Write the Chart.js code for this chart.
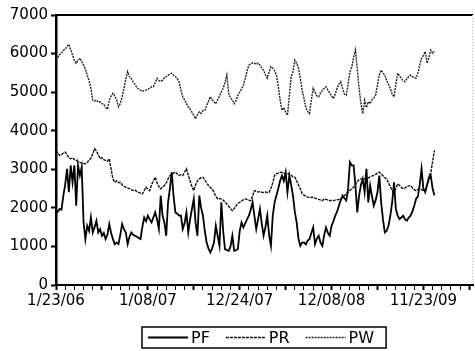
<!DOCTYPE html>
<html>
<head>
<meta charset="utf-8">
<script src="https://cdn.jsdelivr.net/npm/chart.js@4.4.1/dist/chart.umd.min.js"></script>
<style>
  html, body { margin: 0; padding: 0; background: #fff; }
  canvas { display: block; }
</style>
</head>
<body>
<canvas id="prixChart" width="475" height="351"></canvas>
<script>
// semaines depuis le 23/01/2006 (l'axe va un peu plus loin que les donnees)
const nbWeeks = 228;
const startDate = Date.UTC(2006, 0, 23);
const dates = [];
for (let i = 0; i < nbWeeks; i++) {
  const d = new Date(startDate + i * 7 * 86400000);
  const dd = String(d.getUTCDate()).padStart(2, '0');
  const yy = String(d.getUTCFullYear() % 100).padStart(2, '0');
  dates.push((d.getUTCMonth() + 1) + '/' + dd + '/' + yy);
}

const yTicks = [0, 1000, 2000, 3000, 4000, 5000, 6000, 7000];

const PF = [
  1883, 1900, 1971, 1950, 2318, 2600, 3013, 2404, 3099, 2664,
  3099, 2057, 3099, 2839, 3055, 1622, 1190, 1536, 1400, 1753,
  1362, 1500, 1667, 1362, 1450, 1276, 1350, 1190, 1300, 1581,
  1350, 1190, 1060, 1100, 1060, 1300, 1581, 1450, 1362, 1060,
  1250, 1362, 1300, 1276, 1250, 1220, 1190, 1500, 1753, 1650,
  1797, 1700, 1622, 1750, 1883, 1700, 1450, 2318, 1800, 1622,
  1276, 2143, 2500, 2924, 2300, 1883, 1850, 1797, 1800, 1450,
  1600, 1883, 1362, 1700, 1971, 2232, 1600, 1276, 2318, 2000,
  1797, 1400, 1102, 950, 841, 950, 1102, 1536, 1276, 1016,
  2143, 1400, 930, 900, 885, 1000, 1276, 885, 900, 930,
  1400, 1622, 1492, 1600, 1700, 1797, 1950, 2143, 1800, 1450,
  1700, 1971, 1600, 1276, 1500, 1797, 1300, 1016, 1800, 2143,
  2318, 2500, 2700, 2839, 2700, 2924, 2404, 2839, 2600, 2318,
  1900, 1622, 1200, 1016, 1100, 1102, 1050, 1150, 1190, 1350,
  1492, 1060, 1200, 1276, 1100, 1016, 1300, 1492, 1350, 1276,
  1536, 1650, 1797, 1900, 2057, 2200, 2318, 2250, 2188, 2492,
  3185, 3100, 3099, 2578, 1883, 2318, 2600, 2753, 2404, 3013,
  2143, 2578, 2300, 2057, 2200, 2404, 2839, 2143, 1700, 1362,
  1400, 1536, 1800, 2143, 2664, 1971, 1800, 1710, 1750, 1797,
  1700, 1667, 1750, 1797, 1900, 2057, 2232, 2300, 2600, 3013,
  2492, 2404, 2600, 2753, 2839, 2500, 2318
];

const PR = [
  3490, 3420, 3360, 3380, 3420, 3445, 3380, 3300, 3273, 3300,
  3250, 3229, 3200, 3180, 3160, 3150, 3143, 3180, 3230, 3290,
  3400, 3534, 3480, 3380, 3273, 3300, 3250, 3229, 3210, 3273,
  3000, 2750, 2664, 2700, 2650, 2664, 2600, 2560, 2534, 2520,
  2500, 2470, 2448, 2460, 2420, 2400, 2380, 2362, 2450, 2534,
  2480, 2448, 2600, 2700, 2794, 2650, 2550, 2492, 2540, 2578,
  2650, 2750, 2839, 2870, 2900, 2924, 2880, 2839, 2860, 2839,
  2930, 3013, 2850, 2700, 2550, 2448, 2600, 2700, 2753, 2780,
  2794, 2720, 2650, 2580, 2530, 2492, 2400, 2300, 2232, 2240,
  2232, 2200, 2150, 2102, 2040, 1980, 1927, 1980, 2050, 2120,
  2143, 2180, 2210, 2232, 2220, 2200, 2188, 2300, 2448, 2430,
  2410, 2420, 2404, 2400, 2410, 2400, 2404, 2500, 2650, 2839,
  2880, 2900, 2920, 2924, 2900, 2890, 2880, 2883, 2850, 2800,
  2794, 2700, 2600, 2492, 2370, 2330, 2300, 2273, 2280, 2270,
  2273, 2250, 2240, 2220, 2200, 2188, 2232, 2220, 2200, 2190,
  2190, 2188, 2200, 2210, 2220, 2232, 2270, 2320, 2362, 2400,
  2450, 2500, 2534, 2600, 2680, 2730, 2753, 2760, 2750, 2753,
  2780, 2800, 2820, 2839, 2870, 2900, 2924, 2880, 2830, 2780,
  2753, 2650, 2550, 2450, 2404, 2500, 2622, 2580, 2530, 2492,
  2520, 2550, 2570, 2578, 2520, 2470, 2448, 2480, 2492, 2470,
  2448, 2460, 2600, 2839, 2900, 3200, 3490
];

const PW = [
  5830, 5900, 5980, 6010, 6080, 6120, 6180, 6240, 6100, 5960,
  5820, 5750, 5830, 5880, 5790, 5700, 5600, 5440, 5300, 5100,
  4790, 4770, 4790, 4740, 4750, 4700, 4680, 4600, 4560, 4780,
  4900, 4970, 4900, 4800, 4620, 4700, 4880, 5100, 5350, 5530,
  5400, 5350, 5270, 5200, 5120, 5080, 5050, 5020, 5040, 5050,
  5080, 5100, 5140, 5140, 5250, 5360, 5300, 5280, 5310, 5380,
  5400, 5440, 5460, 5490, 5440, 5400, 5360, 5270, 5050, 4880,
  4800, 4700, 4620, 4560, 4480, 4400, 4310, 4420, 4490, 4450,
  4520, 4530, 4650, 4760, 4880, 4800, 4750, 4700, 4800, 4900,
  5010, 5100, 5250, 5440, 4970, 4850, 4800, 4700, 4780, 4920,
  5000, 5080, 5180, 5350, 5550, 5700, 5730, 5760, 5750, 5720,
  5750, 5700, 5620, 5570, 5450, 5360, 5520, 5660, 5620, 5550,
  5440, 5150, 4800, 4530, 4600, 4480, 4400, 4900, 5400, 5530,
  5830, 5750, 5620, 5350, 5050, 4835, 4600, 4500, 4444, 4800,
  5100, 5000, 4900, 4880, 4980, 5050, 5100, 5140, 5050, 4980,
  4900, 4835, 4950, 5100, 5200, 5270, 5100, 4950, 4920, 5200,
  5530, 5650, 5900, 6090, 5600, 5100, 4700, 4440, 4790, 4600,
  4750, 4700, 4800, 4850, 4920, 5200, 5450, 5570, 5500, 5440,
  5300, 5200, 5100, 4950, 4880, 5200, 5490, 5420, 5350, 5300,
  5270, 5350, 5400, 5440, 5400, 5380, 5360, 5500, 5700, 5880,
  5950, 6050, 5750, 5900, 6090, 6010, 6050
];

// cadre : bord du haut plein, bord droit en pointille clair
const framePlugin = {
  id: 'frame',
  afterDraw(chart) {
    const { ctx, chartArea } = chart;
    ctx.save();
    ctx.strokeStyle = '#000';
    ctx.lineWidth = 2;
    ctx.beginPath();
    ctx.moveTo(chartArea.left, chartArea.top);
    ctx.lineTo(chartArea.right, chartArea.top);
    ctx.stroke();
    ctx.strokeStyle = '#bbb';
    ctx.lineWidth = 1;
    ctx.setLineDash([1, 2]);
    ctx.beginPath();
    ctx.moveTo(chartArea.right - 0.5, chartArea.top);
    ctx.lineTo(chartArea.right - 0.5, chartArea.bottom);
    ctx.stroke();
    ctx.restore();
  }
};

// legende encadree sous l'axe
const legendPlugin = {
  id: 'boxLegend',
  afterDraw(chart) {
    const { ctx, chartArea } = chart;
    const sets = chart.data.datasets;
    const lineLen = 40, gap = 3, itemGap = 16, padL = 6, padR = 12;
    ctx.save();
    ctx.font = '16px "DejaVu Sans"';
    const widths = sets.map(d => ctx.measureText(d.label).width);
    let total = padL + padR + itemGap * (sets.length - 1);
    widths.forEach(w => { total += lineLen + gap + w; });
    const left = Math.round((chartArea.left + chartArea.right) / 2 - total / 2);
    const top = 327, h = 21, cy = top + h / 2;
    ctx.strokeStyle = '#000';
    ctx.lineWidth = 1.5;
    ctx.strokeRect(left, top, total, h);
    let x = left + padL;
    sets.forEach((d, i) => {
      ctx.strokeStyle = d.borderColor;
      ctx.lineWidth = d.borderWidth;
      ctx.setLineDash(d.borderDash || []);
      ctx.beginPath();
      ctx.moveTo(x, cy);
      ctx.lineTo(x + lineLen, cy);
      ctx.stroke();
      ctx.setLineDash([]);
      ctx.fillStyle = '#000';
      ctx.textBaseline = 'middle';
      ctx.fillText(d.label, x + lineLen + gap, cy + 1);
      x += lineLen + gap + widths[i] + itemGap;
    });
    ctx.restore();
  }
};

const ctx = document.getElementById('prixChart').getContext('2d');

const prixChart = new Chart(ctx, {
  type: 'line',
  data: {
    labels: dates,
    datasets: [
      { label: 'PF', data: PF, borderColor: '#000', borderWidth: 1.8, pointRadius: 0, tension: 0 },
      { label: 'PR', data: PR, borderColor: '#111', borderWidth: 1.4, borderDash: [3, 1], pointRadius: 0, tension: 0 },
      { label: 'PW', data: PW, borderColor: '#222', borderWidth: 1.4, borderDash: [2, 1], pointRadius: 0, tension: 0 }
    ]
  },
  options: {
    responsive: false,
    animation: false,
    layout: { padding: { top: 15, right: 1, left: 0, bottom: 0 } },
    plugins: {
      legend: { display: false },
      tooltip: { enabled: false }
    },
    scales: {
      x: {
        afterFit: s => { s.height = 66; },
        border: { color: '#000', width: 2 },
        grid: {
          drawOnChartArea: false,
          drawTicks: true,
          tickLength: 5,
          tickColor: c => (c.index % 5 === 0 ? '#000' : 'rgba(0,0,0,0)'),
          tickWidth: c => (c.index % 25 === 0 ? 2 : 1)
        },
        ticks: {
          autoSkip: false,
          maxRotation: 0,
          minRotation: 0,
          padding: 2,
          color: '#000',
          font: { family: 'DejaVu Sans', size: 15 },
          callback: (v, i) => (i % 50 === 0 ? dates[i] : '')
        }
      },
      y: {
        min: yTicks[0],
        max: yTicks[yTicks.length - 1],
        afterFit: s => { s.width = 56; },
        afterBuildTicks: s => { s.ticks = yTicks.map(v => ({ value: v })); },
        border: { color: '#000', width: 2.5 },
        grid: { drawOnChartArea: false, tickLength: 5, tickColor: '#000', tickWidth: 2 },
        ticks: {
          padding: 3,
          color: '#000',
          font: { family: 'DejaVu Sans', size: 15 },
          callback: v => String(v)
        }
      }
    }
  },
  plugins: [framePlugin, legendPlugin]
});
</script>
</body>
</html>
